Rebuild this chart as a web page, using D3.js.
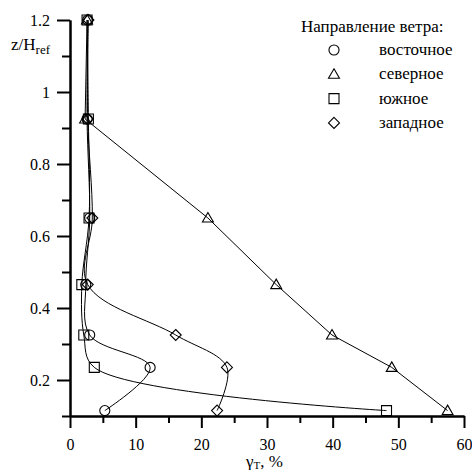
<!DOCTYPE html>
<html>
<head>
<meta charset="utf-8">
<script src="https://cdn.jsdelivr.net/npm/d3@7/dist/d3.min.js"></script>
</head>
<body style="margin:0">
<svg id="chart" width="472" height="470"></svg>
<script>
// Relative height levels z/Href
const heights = [0.115, 0.235, 0.325, 0.465, 0.65, 0.925, 1.2];

// Turbulence intensity, %, for each wind direction (bottom to top)
const eastValues  = [5.3, 12.2, 3.0, 2.4, 3.0, 2.6, 2.7];
const northValues = [57.5, 49.0, 39.9, 31.4, 21.0, 2.3, 2.6];
const southValues = [48.2, 3.7, 2.1, 1.8, 2.9, 2.8, 2.6];
const westValues  = [22.4, 23.9, 16.1, 2.7, 3.4, 2.7, 2.8];

const seriesNames = ["восточное", "северное", "южное", "западное"];
const seriesSymbols = ["circle", "triangle", "square", "diamond"];
const seriesSmooth = [true, false, true, true];
const seriesValues = [eastValues, northValues, southValues, westValues];

const xMajorTicks = [0, 10, 20, 30, 40, 50, 60];
const xMinorTicks = [5, 15, 25, 35, 45, 55];
const yMajorTicks = [0.2, 0.4, 0.6, 0.8, 1, 1.2];
const yMinorTicks = [0.1, 0.3, 0.5, 0.7, 0.9, 1.1];

const legendTitle = "Направление ветра:";

const svg = d3.select("#chart");
const x = d3.scaleLinear().domain([0, 60]).range([70, 464]);
const y = d3.scaleLinear().domain([0.1, 1.2]).range([416, 20]);

// Every text element gets the Times-compatible serif face
function serifText(parent, size) {
  return parent.append("text")
    .attr("font-size", size)
    .style("font-family", '"Liberation Serif"')
    .attr("fill", "#000");
}

// Axes: long major ticks with labels, short unlabeled minor ticks
const axisStyle = g => {
  g.attr("font-family", null).attr("font-size", null);
  g.selectAll("path.domain").attr("stroke", "#000").attr("stroke-width", 2);
  g.selectAll(".tick line").attr("stroke", "#000").attr("stroke-width", 2);
  g.selectAll(".tick text").attr("fill", "#000").attr("font-size", 16)
    .style("font-family", '"Liberation Serif"');
};

svg.append("g")
  .attr("transform", `translate(0,${y(0.1)})`)
  .call(d3.axisBottom(x).tickValues(xMinorTicks).tickSize(7).tickSizeOuter(0).tickFormat(""))
  .call(axisStyle);
svg.append("g")
  .attr("transform", `translate(0,${y(0.1)})`)
  .call(d3.axisBottom(x).tickValues(xMajorTicks).tickSize(12).tickSizeOuter(0).tickPadding(11).tickFormat(d3.format("d")))
  .call(axisStyle);

svg.append("g")
  .attr("transform", `translate(${x(0)},0)`)
  .call(d3.axisLeft(y).tickValues(yMinorTicks).tickSize(8).tickSizeOuter(0).tickFormat(""))
  .call(axisStyle);
svg.append("g")
  .attr("transform", `translate(${x(0)},0)`)
  .call(d3.axisLeft(y).tickValues(yMajorTicks).tickSize(13).tickSizeOuter(0).tickPadding(7).tickFormat(d => String(d)))
  .call(axisStyle);

// Axis titles
const yTitle = serifText(svg, 17).attr("x", 11).attr("y", 50);
yTitle.append("tspan").text("z/H");
yTitle.append("tspan").attr("font-size", 13).attr("dy", 4).text("ref");

const xTitle = serifText(svg, 17).attr("x", 246).attr("y", 467);
xTitle.append("tspan").text("γ");
xTitle.append("tspan").attr("font-size", 11).attr("dy", 2).text("Т");
xTitle.append("tspan").attr("dy", -2).text(", %");

// Marker shapes
function marker(g, type, cx, cy) {
  const s = g.append("path")
    .attr("fill", "none").attr("stroke", "#000").attr("stroke-width", 1.1)
    .attr("transform", `translate(${cx},${cy})`);
  if (type === "circle") s.attr("d", d3.symbol(d3.symbolCircle, 80)());
  if (type === "square") s.attr("d", "M-5,-5H5V5H-5Z");
  if (type === "triangle") s.attr("d", "M0,-5.5L5.5,4L-5.5,4Z");
  if (type === "diamond") s.attr("d", "M0,-5.5L5.5,0L0,5.5L-5.5,0Z");
  return s;
}

// Profiles
seriesValues.forEach((vals, i) => {
  const pts = vals.map((v, k) => [v, heights[k]]);
  const line = d3.line()
    .x(d => x(d[0])).y(d => y(d[1]))
    .curve(seriesSmooth[i] ? d3.curveCatmullRom.alpha(0.5) : d3.curveLinear);
  svg.append("path").datum(pts)
    .attr("d", line)
    .attr("fill", "none").attr("stroke", "#000").attr("stroke-width", 1);
});
seriesValues.forEach((vals, i) => {
  const g = svg.append("g");
  vals.forEach((v, k) => marker(g, seriesSymbols[i], x(v), y(heights[k])));
});

// Legend
const legend = svg.append("g");
serifText(legend, 17).attr("x", 301).attr("y", 32).text(legendTitle);
seriesNames.forEach((name, i) => {
  const cy = 50 + i * 24.3;
  marker(legend, seriesSymbols[i], 334, cy);
  serifText(legend, 17).attr("x", 379).attr("y", cy + 5).text(name);
});

// Lay out all text once so the chosen face is shaped before first paint
svg.selectAll("text").each(function () { this.getComputedTextLength(); });
</script>
</body>
</html>
